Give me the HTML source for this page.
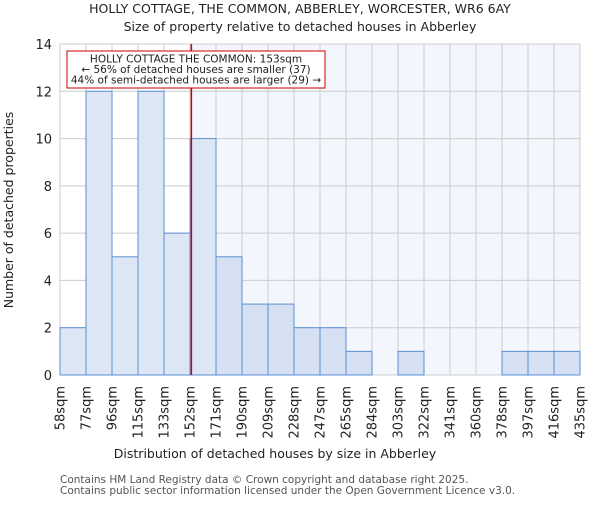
<!DOCTYPE html>
<html><head><meta charset="utf-8"><style>
body{margin:0;background:#fff}
svg text{font-family:"DejaVu Sans","Liberation Sans",sans-serif;fill:#222}
</style></head><body>
<svg id="chart" width="600" height="500" xmlns="http://www.w3.org/2000/svg">
<text x="300" y="13" text-anchor="middle" font-size="12.5">HOLLY COTTAGE, THE COMMON, ABBERLEY, WORCESTER, WR6 6AY</text>
<text x="300" y="31" text-anchor="middle" font-size="12.5">Size of property relative to detached houses in Abberley</text>
<g id="plot"></g>
<text x="275" y="458" text-anchor="middle" font-size="12.5">Distribution of detached houses by size in Abberley</text>
<text transform="translate(13,210) rotate(-90)" text-anchor="middle" font-size="12.5">Number of detached properties</text>
<text x="60" y="483" font-size="10.5" style="fill:#555">Contains HM Land Registry data © Crown copyright and database right 2025.</text>
<text x="60" y="494" font-size="10.5" style="fill:#555">Contains public sector information licensed under the Open Government Licence v3.0.</text>
</svg>
<script>
const edges=[58,77,96,115,133,152,171,190,209,228,247,265,284,303,322,341,360,378,397,416,435];
const edgeLabels=["58sqm","77sqm","96sqm","115sqm","133sqm","152sqm","171sqm","190sqm","209sqm","228sqm","247sqm","265sqm","284sqm","303sqm","322sqm","341sqm","360sqm","378sqm","397sqm","416sqm","435sqm"];
const counts=[2,12,5,12,6,10,5,3,3,2,2,1,0,1,0,0,0,1,1,1];
const yTicks=[0,2,4,6,8,10,12,14];
const subject=153;
const annotLines=["HOLLY COTTAGE THE COMMON: 153sqm","← 56% of detached houses are smaller (37)","44% of semi-detached houses are larger (29) →"];
const L=60,R=580,T=44,B=375,ymax=14;
const NS="http://www.w3.org/2000/svg";
const g=document.getElementById('plot');
const xs=i=>L+(i)*(R-L)/(edges.length-1);
const xv=v=>{for(let i=0;i<edges.length-1;i++){if(v<=edges[i+1])return xs(i)+(v-edges[i])/(edges[i+1]-edges[i])*(xs(i+1)-xs(i));}return R;};
const y=v=>B-v/ymax*(B-T);
function mk(t,a){const e=document.createElementNS(NS,t);for(const k in a)e.setAttribute(k,a[k]);g.appendChild(e);return e;}
const sx=xv(subject);
let e=mk('rect',{x:sx,y:T,width:R-sx,height:B-T,fill:'#f3f6fd'});


yTicks.forEach(t=>{let l=mk('line',{x1:L,x2:R,y1:y(t),y2:y(t),stroke:'#cccccc'});


let tx=mk('text',{x:52,y:y(t)+5,'text-anchor':'end','font-size':13});tx.textContent=t;

});
edges.forEach((v,i)=>{let l=mk('line',{x1:xs(i),x2:xs(i),y1:T,y2:B,stroke:'#cccccc'});


let tx=mk('text',{transform:`translate(${xs(i)+4.5},386) rotate(-90)`,'text-anchor':'end','font-size':13});tx.textContent=edgeLabels[i];

});
counts.forEach((c,i)=>{if(c<=0)return;const left=edges[i]<subject;
let r=mk('rect',{x:xs(i),y:y(c),width:xs(i+1)-xs(i),height:y(0)-y(c),fill:left?'#dde6f4':'#d6e0f3',stroke:'#5b8fd4','stroke-width':1});

});
e=mk('line',{x1:sx,x2:sx,y1:T,y2:B,stroke:'#cc0000','stroke-width':1.5});


e=mk('rect',{x:67,y:51,width:258,height:37,fill:'#fff',stroke:'#cc0000','stroke-width':1});


annotLines.forEach((s,i)=>{let t=mk('text',{x:196,y:62.5+i*10.5,'text-anchor':'middle','font-size':10.5});t.textContent=s;

});
</script>
</body></html>
